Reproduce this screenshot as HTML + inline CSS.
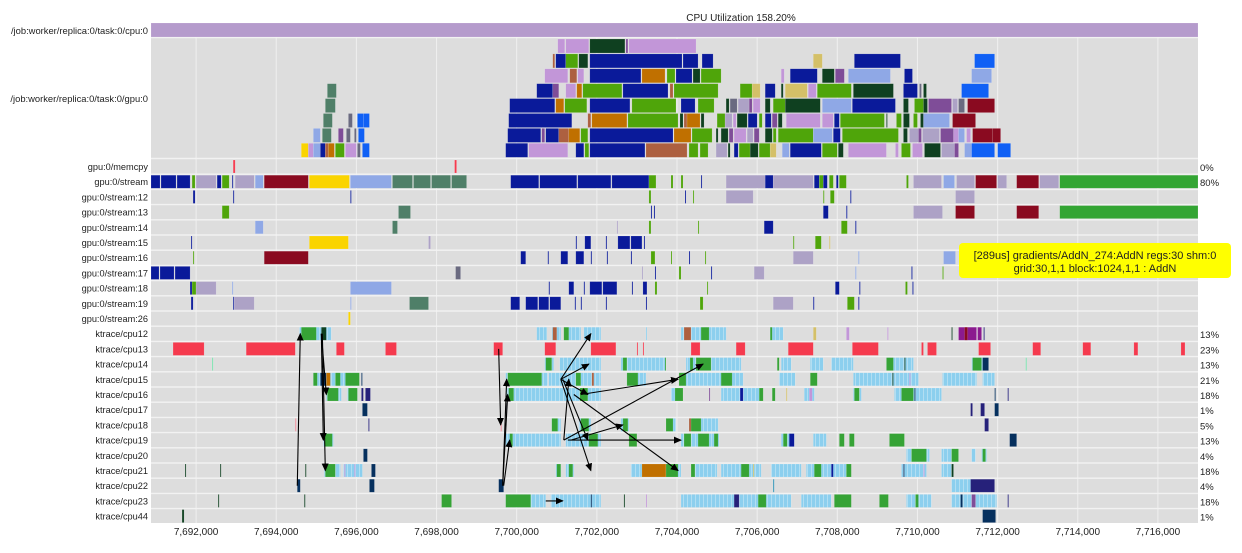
<!DOCTYPE html>
<html><head><meta charset="utf-8"><title>Trace timeline</title>
<style>
html,body{margin:0;padding:0;background:#fff;}
svg{display:block;font-family:"Liberation Sans",Arial,sans-serif;}
</style></head>
<body>
<svg id="chart" width="1242" height="553" viewBox="0 0 1242 553" xmlns="http://www.w3.org/2000/svg">
<defs>
<pattern id="schedPat" width="4" height="10" patternUnits="userSpaceOnUse">
<rect width="4" height="10" fill="#8ccfee"/>
<rect x="3" width="0.8" height="10" fill="#c8e6f4" opacity="0.8"/>
</pattern>
</defs>
<text x="741" y="21" font-size="10" text-anchor="middle" fill="#222">CPU Utilization 158.20%</text>
</svg>
<script>
const tickValues = [7692000,7694000,7696000,7698000,7700000,7702000,7704000,7706000,7708000,7710000,7712000,7714000,7716000];
const tickLabels = ["7,692,000","7,694,000","7,696,000","7,698,000","7,700,000","7,702,000","7,704,000","7,706,000","7,708,000","7,710,000","7,712,000","7,714,000","7,716,000"];
const timeDomain = [7690875, 7717000];
const cpuRowSegs = [[7690875,7717000,'cpuutil']];
const gpuLevels = [
 [[7701025,7701200,'shape'],[7701225,7701800,'shape'],[7701825,7702700,'bias'],[7702725,7702775,'slice'],[7702800,7704475,'shape']],
 [[7700900,7700950,'sub'],[7700975,7701225,'conv'],[7701225,7701525,'relu'],[7701550,7701775,'bias'],[7701825,7704125,'conv'],[7704150,7704525,'conv'],[7704625,7704900,'conv'],[7707400,7707625,'tanh'],[7708425,7709575,'conv'],[7711425,7711925,'tile']],
 [[7700700,7701275,'shape'],[7701325,7701500,'sub'],[7701525,7701675,'shape'],[7701825,7703100,'conv'],[7703125,7703700,'mul'],[7703750,7703950,'relu'],[7703975,7704375,'conv'],[7704400,7704575,'bias'],[7704600,7705100,'relu'],[7706600,7706675,'shape'],[7706825,7707500,'conv'],[7707625,7707925,'bias'],[7707950,7708175,'slice'],[7708275,7709325,'pool'],[7709675,7709875,'conv'],[7711350,7711850,'pool']],
 [[7695275,7695500,'pad'],[7700500,7700900,'conv'],[7700900,7701050,'slice'],[7701225,7701475,'shape'],[7701500,7701625,'mul'],[7701650,7702625,'relu'],[7702650,7703775,'conv'],[7703825,7703900,'sub'],[7703925,7705025,'relu'],[7705575,7705875,'relu'],[7705875,7706075,'tanh'],[7706200,7706450,'conv'],[7706600,7706650,'bias'],[7706700,7707250,'tanh'],[7707275,7707475,'shape'],[7707500,7708350,'relu'],[7708400,7709400,'bias'],[7709650,7710000,'conv'],[7710050,7710100,'const'],[7710150,7710225,'bias'],[7711100,7711775,'tile']],
 [[7695225,7695475,'pad'],[7699825,7700950,'conv'],[7700975,7701175,'mul'],[7701200,7701750,'relu'],[7701825,7702825,'conv'],[7702875,7703975,'relu'],[7704100,7704450,'conv'],[7704525,7704925,'relu'],[7705225,7705300,'bias'],[7705325,7705500,'const'],[7705525,7705800,'grad'],[7705800,7705875,'slice'],[7705900,7706075,'shape'],[7706200,7706325,'bias'],[7706400,7706700,'relu'],[7706700,7707575,'bias'],[7707625,7708350,'pool'],[7708375,7709450,'conv'],[7709650,7709775,'bias'],[7709925,7710150,'relu'],[7710150,7710250,'bias'],[7710275,7710850,'slice'],[7710875,7711000,'grad'],[7711025,7711175,'const'],[7711250,7711925,'cast']],
 [[7695175,7695400,'pad'],[7695800,7695900,'const'],[7696025,7696175,'tile'],[7696175,7696325,'tile'],[7699800,7701375,'conv'],[7701775,7701850,'sub'],[7701875,7702750,'mul'],[7702775,7704025,'relu'],[7704075,7704150,'bias'],[7704175,7704250,'sub'],[7704250,7704575,'mul'],[7704600,7704675,'bias'],[7705000,7705200,'relu'],[7705200,7705375,'grad'],[7705400,7705475,'shape'],[7705500,7705750,'bias'],[7705775,7706000,'conv'],[7706050,7706125,'relu'],[7706200,7706350,'conv'],[7706375,7706500,'slice'],[7706525,7706625,'bias'],[7706725,7707575,'shape'],[7707625,7707900,'shape'],[7707925,7708050,'conv'],[7708075,7709175,'relu'],[7709225,7709250,'bias'],[7709475,7709600,'relu'],[7709650,7709800,'bias'],[7709900,7710000,'relu'],[7710075,7710150,'bias'],[7710150,7710800,'pool'],[7710875,7711450,'cast']],
 [[7694925,7695100,'pool'],[7695150,7695375,'pad'],[7695550,7695675,'slice'],[7695750,7695850,'const'],[7695950,7696000,'const'],[7696050,7696200,'tile'],[7699775,7700600,'conv'],[7700625,7700700,'slice'],[7700725,7701050,'conv'],[7701050,7701300,'sub'],[7701300,7701575,'mul'],[7701600,7701775,'relu'],[7701825,7703900,'conv'],[7703925,7704350,'mul'],[7704375,7704875,'relu'],[7704975,7705025,'bias'],[7705100,7705275,'bias'],[7705300,7705400,'slice'],[7705425,7705725,'shape'],[7705750,7705900,'grad'],[7705925,7706050,'slice'],[7706200,7706375,'bias'],[7706400,7706475,'relu'],[7706525,7707400,'relu'],[7707400,7707875,'pool'],[7707900,7708075,'conv'],[7708125,7709525,'relu'],[7709650,7709750,'bias'],[7709800,7710025,'grad'],[7710025,7710100,'slice'],[7710125,7710550,'grad'],[7710575,7710900,'slice'],[7710900,7711025,'shape'],[7711025,7711175,'pool'],[7711225,7711325,'shape'],[7711375,7711875,'cast'],[7711875,7712075,'cast']],
 [[7694625,7694800,'fill'],[7694800,7694925,'shape'],[7694925,7695100,'pool'],[7695100,7695225,'conv'],[7695225,7695300,'sub'],[7695300,7695450,'mul'],[7695475,7695700,'relu'],[7695725,7696000,'shape'],[7696025,7696100,'const'],[7696150,7696325,'tile'],[7699725,7700275,'conv'],[7700300,7701275,'shape'],[7701475,7701675,'conv'],[7701700,7701800,'relu'],[7701825,7703200,'conv'],[7703225,7704250,'sub'],[7704300,7704525,'relu'],[7704575,7704775,'relu'],[7704975,7705250,'grad'],[7705275,7705325,'bias'],[7705425,7705525,'conv'],[7705550,7705825,'relu'],[7705825,7706025,'bias'],[7706050,7706325,'relu'],[7706325,7706475,'tanh'],[7706625,7706800,'pool'],[7706825,7707600,'conv'],[7707625,7708000,'relu'],[7708025,7708150,'bias'],[7708275,7709225,'shape'],[7709450,7709525,'shape'],[7709600,7709825,'relu'],[7709875,7710125,'shape'],[7710175,7710575,'bias'],[7710600,7710925,'grad'],[7710925,7711025,'slice'],[7711175,7711350,'pool'],[7711350,7711925,'tile'],[7712000,7712325,'tile']]
];
const laneNames = ["gpu:0/memcpy","gpu:0/stream","gpu:0/stream:12","gpu:0/stream:13","gpu:0/stream:14","gpu:0/stream:15","gpu:0/stream:16","gpu:0/stream:17","gpu:0/stream:18","gpu:0/stream:19","gpu:0/stream:26","ktrace/cpu12","ktrace/cpu13","ktrace/cpu14","ktrace/cpu15","ktrace/cpu16","ktrace/cpu17","ktrace/cpu18","ktrace/cpu19","ktrace/cpu20","ktrace/cpu21","ktrace/cpu22","ktrace/cpu23","ktrace/cpu44"];
const lanePercents = ["0%","80%","","","","","","","","","","13%","23%","13%","21%","18%","1%","5%","13%","4%","18%","4%","18%","1%"];
const laneSegs = [
 [[7692925,7692975,'irq'],[7698450,7698500,'irq']],
 [[7690875,7691100,'conv'],[7691125,7691500,'conv'],[7691525,7691850,'conv'],[7691900,7691975,'relu'],[7692000,7692500,'grad'],[7692525,7692625,'conv'],[7692650,7692825,'relu'],[7692900,7692925,'conv'],[7692975,7693450,'grad'],[7693475,7693675,'pool'],[7693700,7694800,'cast'],[7694825,7695825,'fill'],[7695850,7696875,'pool'],[7696900,7697400,'pad'],[7697425,7697850,'pad'],[7697875,7698350,'pad'],[7698375,7698750,'pad'],[7699850,7700550,'conv'],[7700575,7701500,'conv'],[7701525,7702350,'conv'],[7702375,7703300,'conv'],[7703300,7703475,'relu'],[7703850,7703900,'relu'],[7704100,7704150,'relu'],[7704600,7704625,'conv'],[7705225,7706200,'grad'],[7706200,7706400,'conv'],[7706400,7707400,'grad'],[7707425,7707550,'conv'],[7707550,7707650,'relu'],[7707650,7707750,'conv'],[7707800,7707900,'relu'],[7707975,7708025,'conv'],[7708050,7708225,'relu'],[7709725,7709775,'relu'],[7709900,7710600,'grad'],[7710650,7710925,'pool'],[7710975,7711425,'grad'],[7711450,7711975,'cast'],[7712000,7712225,'grad'],[7712475,7713025,'cast'],[7713050,7713525,'grad'],[7713550,7717000,'addn']],
 [[7691925,7691975,'conv'],[7692925,7692950,'conv'],[7695850,7695875,'conv'],[7703300,7703350,'relu'],[7704200,7704225,'conv'],[7704400,7704425,'relu'],[7705225,7705900,'grad'],[7707650,7707675,'relu'],[7707825,7707925,'relu'],[7708325,7708350,'conv'],[7710950,7711425,'grad']],
 [[7692650,7692825,'relu'],[7697050,7697350,'pad'],[7703350,7703375,'conv'],[7703425,7703450,'conv'],[7707650,7707775,'conv'],[7708225,7708250,'conv'],[7709900,7710625,'grad'],[7710950,7711425,'cast'],[7712475,7713025,'cast'],[7713550,7717000,'addn']],
 [[7693475,7693675,'pool'],[7696900,7697025,'pad'],[7702500,7702525,'grad'],[7703300,7703350,'relu'],[7704525,7704550,'relu'],[7706175,7706400,'conv'],[7708100,7708250,'relu'],[7708450,7708475,'conv']],
 [[7691875,7691900,'conv'],[7694825,7695800,'fill'],[7697800,7697850,'grad'],[7701475,7701500,'conv'],[7701700,7701850,'conv'],[7702225,7702250,'conv'],[7702525,7702825,'conv'],[7702850,7703125,'conv'],[7703175,7703200,'conv'],[7706900,7706925,'relu'],[7707450,7707600,'relu'],[7707800,7707825,'tanh']],
 [[7691925,7691950,'relu'],[7693700,7694800,'cast'],[7700100,7700225,'conv'],[7700775,7700800,'conv'],[7701100,7701275,'conv'],[7701475,7701675,'conv'],[7701850,7701875,'conv'],[7702250,7702275,'conv'],[7702850,7702875,'conv'],[7703350,7703450,'relu'],[7703850,7703875,'relu'],[7704300,7704325,'conv'],[7704700,7704725,'relu'],[7706900,7707400,'grad'],[7708525,7708550,'pool'],[7710650,7710950,'pool']],
 [[7690875,7691075,'conv'],[7691100,7691450,'conv'],[7691475,7691850,'conv'],[7698475,7698600,'const'],[7703125,7703150,'grad'],[7703450,7703475,'conv'],[7704050,7704100,'relu'],[7704850,7704875,'conv'],[7705925,7706175,'grad'],[7708450,7708475,'pool'],[7709850,7709875,'conv'],[7710625,7710650,'relu']],
 [[7691850,7691900,'conv'],[7691900,7692000,'relu'],[7692000,7692500,'grad'],[7692900,7692925,'pool'],[7695850,7696875,'pool'],[7700800,7700825,'conv'],[7701300,7701425,'conv'],[7701675,7701700,'conv'],[7701825,7702125,'conv'],[7702150,7702500,'conv'],[7702875,7702900,'conv'],[7703150,7703250,'conv'],[7703450,7703500,'relu'],[7704750,7704775,'relu'],[7707950,7708050,'conv'],[7708550,7708575,'conv'],[7709700,7709750,'relu'],[7709875,7709900,'conv']],
 [[7691875,7691925,'conv'],[7692925,7692950,'conv'],[7692950,7693450,'grad'],[7695850,7695875,'pool'],[7697325,7697800,'pad'],[7699850,7700075,'conv'],[7700225,7700525,'conv'],[7700550,7700800,'conv'],[7700825,7701100,'conv'],[7701450,7701475,'conv'],[7701600,7701625,'conv'],[7702225,7702250,'conv'],[7703225,7703250,'conv'],[7704575,7704650,'relu'],[7706400,7706900,'grad'],[7707400,7707425,'conv'],[7708250,7708425,'relu'],[7708525,7708550,'conv']],
 [[7695800,7695850,'fill']],
 [[7694575,7695375,'sched'],[7694625,7695000,'run'],[7695125,7695250,'bias'],[7700500,7700750,'sched'],[7700875,7701100,'sched'],[7700900,7701000,'sub'],[7701175,7701600,'sched'],[7701175,7701300,'run'],[7701675,7702100,'sched'],[7703225,7703250,'sched'],[7704100,7705225,'sched'],[7704175,7704350,'sub'],[7704600,7704800,'run'],[7706325,7706650,'sched'],[7706325,7706375,'run'],[7707400,7707475,'tanh'],[7708225,7708300,'shape'],[7709250,7709275,'shape'],[7710850,7710875,'bias'],[7711025,7711475,'kswap'],[7711175,7711250,'cast'],[7711500,7711600,'kswap'],[7711650,7711675,'idle2']],
 [[7691425,7692200,'irq'],[7693250,7694475,'irq'],[7695500,7695700,'irq'],[7696725,7697000,'irq'],[7699425,7699650,'irq'],[7700700,7700975,'irq'],[7701850,7702475,'irq'],[7703000,7703025,'irq'],[7703150,7703175,'irq'],[7704350,7704575,'irq'],[7705475,7705700,'irq'],[7706775,7707400,'irq'],[7708375,7709025,'irq'],[7710100,7710150,'irq'],[7710250,7710475,'irq'],[7711525,7711825,'irq'],[7712875,7713075,'irq'],[7714125,7714325,'irq'],[7715400,7715500,'irq'],[7716575,7716675,'irq']],
 [[7692400,7692425,'mint'],[7700700,7700925,'sched'],[7700725,7700875,'run'],[7701075,7702100,'sched'],[7702600,7703725,'sched'],[7702650,7702750,'run'],[7703700,7703725,'run'],[7704225,7705600,'sched'],[7704325,7704400,'run'],[7704475,7704850,'run'],[7706600,7706850,'sched'],[7706500,7706550,'run'],[7707325,7707650,'sched'],[7707850,7708400,'sched'],[7709225,7709900,'sched'],[7709225,7709400,'run'],[7709675,7709700,'bias'],[7711350,7711625,'sched'],[7711375,7711600,'run'],[7711625,7711775,'idle'],[7712700,7712725,'mint']],
 [[7694925,7696025,'sched'],[7694925,7695025,'run'],[7695100,7695250,'idle'],[7695250,7695350,'mul'],[7695475,7695600,'run'],[7695725,7696075,'run'],[7696125,7696150,'idle'],[7699725,7700775,'sched'],[7699775,7700625,'run'],[7700800,7702100,'sched'],[7701475,7701600,'run'],[7701875,7701925,'sub'],[7702750,7703225,'sched'],[7702750,7703025,'run'],[7704100,7705650,'sched'],[7704050,7704225,'run'],[7705100,7705375,'run'],[7706550,7706950,'sched'],[7707325,7707500,'run'],[7708400,7710025,'sched'],[7709375,7709400,'bias'],[7709800,7709825,'shape'],[7710625,7711475,'sched'],[7711625,7711925,'sched']],
 [[7695250,7695625,'sched'],[7695275,7695550,'run'],[7695775,7696025,'sched'],[7695800,7696025,'run'],[7696125,7696175,'idle2'],[7696225,7696350,'idle2'],[7699750,7702100,'sched'],[7699800,7699925,'run'],[7701575,7701775,'run'],[7703850,7704150,'sched'],[7703950,7704150,'run'],[7704800,7704825,'slice'],[7705100,7706100,'sched'],[7705575,7705650,'conv'],[7706050,7706150,'run'],[7706375,7706450,'run'],[7706725,7706750,'tanh'],[7707175,7707425,'sched'],[7707300,7707375,'shape'],[7708400,7708600,'sched'],[7708425,7708550,'run'],[7709425,7710600,'sched'],[7709600,7709900,'run'],[7709925,7709950,'idle'],[7711925,7711950,'idle'],[7712250,7712275,'idle2']],
 [[7696150,7696275,'idle'],[7699725,7699750,'const'],[7711325,7711375,'idle2'],[7711575,7711675,'idle2'],[7711925,7712025,'idle']],
 [[7694475,7694500,'pink'],[7696300,7696325,'idle2'],[7699600,7699625,'pink'],[7700875,7701100,'sched'],[7700875,7701025,'run'],[7701550,7701850,'sched'],[7701600,7701800,'run'],[7702600,7702800,'sched'],[7702650,7702775,'run'],[7703725,7703975,'sched'],[7703725,7703900,'run'],[7704300,7705025,'sched'],[7704325,7704600,'run'],[7704300,7704350,'sub'],[7711675,7711775,'idle2']],
 [[7695175,7695425,'sched'],[7695200,7695400,'run'],[7699725,7701100,'sched'],[7701225,7702100,'sched'],[7699825,7699900,'run'],[7701800,7702025,'run'],[7702800,7703000,'run'],[7704100,7705050,'sched'],[7704175,7704350,'run'],[7704525,7704800,'run'],[7704925,7705025,'run'],[7706600,7706925,'sched'],[7706650,7706750,'run'],[7706800,7706925,'conv'],[7707400,7707725,'sched'],[7708050,7708175,'run'],[7708300,7708425,'run'],[7709300,7709675,'run'],[7712300,7712475,'idle']],
 [[7696175,7696275,'idle'],[7709725,7710300,'sched'],[7709850,7710225,'run'],[7710600,7711025,'sched'],[7710850,7711025,'run'],[7711350,7711450,'sched'],[7711600,7711725,'sched'],[7711625,7711700,'run']],
 [[7691725,7691750,'bias'],[7692600,7692625,'bias'],[7694725,7694750,'bias'],[7695200,7695600,'sched'],[7695225,7695475,'run'],[7695675,7696150,'sched'],[7695700,7695725,'shape'],[7695950,7695975,'shape'],[7696375,7696475,'idle'],[7700975,7701100,'sched'],[7701000,7701100,'run'],[7701225,7701425,'sched'],[7701300,7701400,'run'],[7702850,7704100,'sched'],[7703125,7703725,'mul'],[7703725,7704025,'run'],[7704350,7704450,'run'],[7704450,7705000,'sched'],[7705100,7706100,'sched'],[7705600,7705800,'run'],[7705900,7705925,'tanh'],[7706350,7707100,'sched'],[7707225,7708225,'sched'],[7707425,7707600,'run'],[7707850,7707900,'conv'],[7708225,7708350,'run'],[7709600,7710225,'sched'],[7709650,7709675,'idle'],[7710150,7710175,'shape'],[7710600,7710850,'sched'],[7710850,7710900,'bias']],
 [[7694525,7694600,'idle'],[7696325,7696450,'idle'],[7699550,7699675,'idle'],[7706400,7706425,'teal'],[7710850,7711475,'sched'],[7711325,7711925,'idle2']],
 [[7692550,7692575,'bias'],[7694700,7694725,'bias'],[7698125,7698375,'run'],[7699725,7700725,'sched'],[7699725,7700350,'run'],[7700850,7702100,'sched'],[7701850,7701875,'idle'],[7702675,7702700,'bias'],[7703225,7703250,'shape'],[7704100,7706850,'sched'],[7705425,7705550,'idle2'],[7706025,7706225,'run'],[7707100,7707850,'sched'],[7707925,7708350,'run'],[7709050,7709275,'run'],[7709725,7710350,'sched'],[7709950,7710025,'run'],[7710850,7711975,'sched'],[7711075,7711125,'idle'],[7711350,7711450,'slice'],[7712250,7712275,'idle2']],
 [[7691650,7691700,'bias'],[7711625,7711950,'idle']]
];
const flowArrows = [
 [7694525,21,7694600,11],[7695125,11,7695250,15],[7695125,11,7695175,18],[7695150,11,7695225,20],
 [7699550,12,7699600,17],[7699650,21,7699750,14],[7699650,21,7699775,15],[7699675,21,7699825,18],
 [7701100,14,7701850,11],[7701100,14,7701800,13],[7701100,14,7701775,15],[7701100,14,7701850,20],
 [7701175,18,7701300,14],[7701600,15,7704025,14],[7701425,15,7704025,20],[7701175,18,7704650,13],
 [7701275,18,7704100,18],[7701350,18,7702650,17],[7701150,14,7701775,18],[7700725,22,7701150,22]
];
const opColors = {cpuutil:'#b59bcc',conv:'#0a1a9a',relu:'#4fa50a',bias:'#0f4020',shape:'#c296d8',mul:'#c07000',sub:'#ad6040',pool:'#8fa8e6',grad:'#ada2c6',cast:'#8a0a20',fill:'#fad400',pad:'#4f7f68',tile:'#1060f5',slice:'#7f4d98',const:'#6a6a80',tanh:'#d4c068',addn:'#33a533',sched:'url(#schedPat)',run:'#36a336',irq:'#f53a4e',idle:'#06305e',mint:'#6ee0a8',pink:'#f08090',teal:'#1a8ab0',kswap:'#8b1a8f',idle2:'#26217a'};

const NS='http://www.w3.org/2000/svg';
const svg=document.getElementById('chart');
const X0=151,X1=1198;
function xs(t){return X0+(t-timeDomain[0])*(X1-X0)/(timeDomain[1]-timeDomain[0]);}
const LANE_TOP=159, LANE_H=15.2;
function laneY(i){return LANE_TOP+i*LANE_H;}
function levelY(k){return 39+k*14.9;}
function mk(tag,attrs,parent){const e=document.createElementNS(NS,tag);for(const k in attrs)e.setAttribute(k,attrs[k]);(parent||svg).appendChild(e);return e;}

const bg=mk('rect',{x:X0,y:23,width:X1-X0,height:523-23,fill:'#dddddd'});


const sepG=mk('g',{});


const seps=[37.5,158.5];
for(let i=1;i<laneNames.length;i++)seps.push(laneY(i));
seps.forEach(y=>{mk('line',{x1:X0,x2:X1,y1:y,y2:y,stroke:'#f2f2f2','stroke-width':1.4},sepG);});
const gridG=mk('g',{});


tickValues.forEach(v=>{mk('line',{x1:xs(v),x2:xs(v),y1:23,y2:523,stroke:'#f4f4f4','stroke-width':1,opacity:0.8},gridG);});

function drawSeg(s,y,h,g,name){
 const x=xs(s[0]),w=Math.max(xs(s[1])-x,1);
 const r=mk('rect',{x:x,y:y,width:w,height:h,fill:opColors[s[2]],stroke:'rgba(255,255,255,0.25)','stroke-width':0.5},g);
 
 
}
const cpuG=mk('g',{});


cpuRowSegs.forEach(s=>drawSeg(s,23,14,cpuG,'cpu-utilization-bar'));
const gpuG=mk('g',{});


gpuLevels.forEach((lev,k)=>lev.forEach(s=>drawSeg(s,levelY(k),14,gpuG,'gpu-op-'+s[2])));
laneSegs.forEach((segs,i)=>{
 const g=mk('g',{});
 
 
 segs.forEach(s=>drawSeg(s,laneY(i)+1,LANE_H-2.2,g,'event-'+s[2]));
});
function label(txt,x,y,anchor,name,size){
 const t=mk('text',{x:x,y:y,'font-size':size||9.5,'text-anchor':anchor,fill:'#222'});
 t.textContent=txt;
 
 
 return t;
}
label('/job:worker/replica:0/task:0/cpu:0',148,34,'end','row-label-cpu0',9.4);
label('/job:worker/replica:0/task:0/gpu:0',148,102,'end','row-label-gpu0',9.4);
laneNames.forEach((n,i)=>label(n,148,laneY(i)+11,'end','lane-label',9.2));
lanePercents.forEach((p,i)=>{if(p)label(p,1200,laneY(i)+12,'start','lane-percent',9.5);});
tickValues.forEach((v,i)=>label(tickLabels[i],xs(v),535,'middle','x-tick-label',10));
const defs=svg.querySelector('defs');
const m=mk('marker',{id:'ah',markerWidth:8,markerHeight:8,refX:7,refY:4,orient:'auto',markerUnits:'userSpaceOnUse'},defs);
mk('path',{d:'M0,0.5 L8,4 L0,7.5 Z',fill:'#000'},m);
const arG=mk('g',{});


flowArrows.forEach(a=>{
 const l=mk('line',{x1:xs(a[0]),y1:laneY(a[1])+7.5,x2:xs(a[2]),y2:laneY(a[3])+7.5,stroke:'#000','stroke-width':1.1,'marker-end':'url(#ah)'},arG);
 
 
});
const tg=mk('g',{});


const tr=mk('rect',{x:959,y:243,width:272,height:35,rx:4,fill:'#ffff00'},tg);


const t1=label('[289us] gradients/AddN_274:AddN regs:30 shm:0',1095,259,'middle','tooltip-line-1',11);
const t2=label('grid:30,1,1 block:1024,1,1 : AddN',1095,272,'middle','tooltip-line-2',11);
tg.appendChild(t1);tg.appendChild(t2);
</script>
</body></html>
